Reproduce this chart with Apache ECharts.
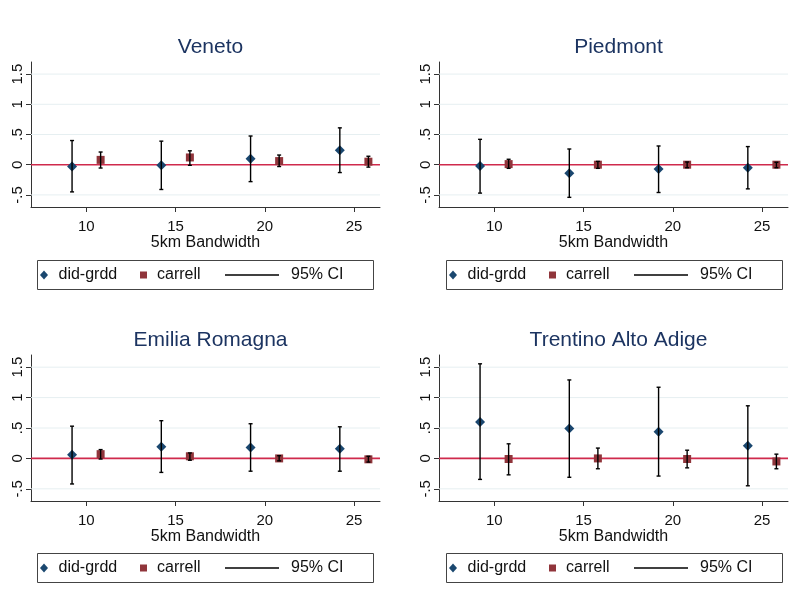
<!DOCTYPE html>
<html><head><meta charset="utf-8">
<script src="https://cdn.jsdelivr.net/npm/echarts@6/dist/echarts.min.js"></script>
<style>html,body{margin:0;padding:0;background:#fff}#chart{width:789px;height:616px}</style>
</head><body><div id="chart"></div>
<script>
// ---- data ----
const panelTitles = ['Veneto', 'Piedmont', 'Emilia Romagna', 'Trentino Alto Adige'];
const didX = [9.2, 14.2, 19.2, 24.2];
const carrellX = [10.8, 15.8, 20.8, 25.8];
const xTicks = [10, 15, 20, 25];
const yTicks = [-0.5, 0, 0.5, 1, 1.5];
const legendNames = ['did-grdd', 'carrell', '95% CI'];
const xAxisTitle = '5km Bandwidth';

const venetoDid = [-0.03, -0.01, 0.10, 0.24];
const venetoDidLo = [-0.45, -0.41, -0.28, -0.13];
const venetoDidHi = [0.40, 0.39, 0.475, 0.61];
const venetoCar = [0.08, 0.12, 0.06, 0.05];
const venetoCarLo = [-0.055, -0.01, -0.03, -0.04];
const venetoCarHi = [0.21, 0.23, 0.16, 0.14];

const piedmontDid = [-0.02, -0.14, -0.07, -0.05];
const piedmontDidLo = [-0.47, -0.54, -0.46, -0.40];
const piedmontDidHi = [0.42, 0.26, 0.31, 0.30];
const piedmontCar = [0.01, 0.0, 0.0, 0.0];
const piedmontCarLo = [-0.06, -0.06, -0.05, -0.05];
const piedmontCarHi = [0.09, 0.055, 0.045, 0.04];

const emiliaDid = [0.06, 0.19, 0.18, 0.16];
const emiliaDidLo = [-0.42, -0.23, -0.21, -0.21];
const emiliaDidHi = [0.53, 0.62, 0.57, 0.52];
const emiliaCar = [0.07, 0.035, 0.0, -0.015];
const emiliaCarLo = [-0.01, -0.03, -0.04, -0.06];
const emiliaCarHi = [0.145, 0.09, 0.045, 0.035];

const trentinoDid = [0.60, 0.49, 0.44, 0.21];
const trentinoDidLo = [-0.345, -0.31, -0.29, -0.45];
const trentinoDidHi = [1.555, 1.29, 1.17, 0.865];
const trentinoCar = [-0.01, 0.0, -0.01, -0.05];
const trentinoCarLo = [-0.27, -0.17, -0.155, -0.17];
const trentinoCarHi = [0.24, 0.17, 0.135, 0.07];

const panelData = [
  [venetoDid, venetoDidLo, venetoDidHi, venetoCar, venetoCarLo, venetoCarHi],
  [piedmontDid, piedmontDidLo, piedmontDidHi, piedmontCar, piedmontCarLo, piedmontCarHi],
  [emiliaDid, emiliaDidLo, emiliaDidHi, emiliaCar, emiliaCarLo, emiliaCarHi],
  [trentinoDid, trentinoDidLo, trentinoDidHi, trentinoCar, trentinoCarLo, trentinoCarHi]
];

// ---- styling / layout ----
const FONT = "'Liberation Sans', Arial, Helvetica, sans-serif";
const DID_COLOR = '#1a476f';
const CAR_COLOR = '#90353b';
const TITLE_COLOR = '#1c3461';
const grids = [
  {left: 31, top: 62, width: 349, height: 145},
  {left: 439, top: 62, width: 349, height: 145},
  {left: 31, top: 355, width: 349, height: 146},
  {left: 439, top: 355, width: 349, height: 146}
];
const legendPos = [[37, 260], [446, 260], [37, 553], [446, 553]];

function yFmt(v) {
  if (v === 0) return '0';
  const a = Math.abs(v);
  let s = a < 1 ? String(a).replace(/^0/, '') : String(a);
  return (v < 0 ? '-' : '') + s;
}

function renderErr(params, api) {
  const x = api.value(0), lo = api.value(1), hi = api.value(2);
  const pLo = api.coord([x, lo]), pHi = api.coord([x, hi]);
  const cw = 2;
  const st = {stroke: '#000', lineWidth: 1.4};
  return {type: 'group', children: [
    {type: 'line', shape: {x1: pLo[0], y1: pLo[1], x2: pHi[0], y2: pHi[1]}, style: st},
    {type: 'line', shape: {x1: pLo[0] - cw, y1: pLo[1], x2: pLo[0] + cw, y2: pLo[1]}, style: st},
    {type: 'line', shape: {x1: pHi[0] - cw, y1: pHi[1], x2: pHi[0] + cw, y2: pHi[1]}, style: st}
  ]};
}

function renderHLine(color, width) {
  return function (params, api) {
    const cs = params.coordSys;
    const y = api.coord([7, api.value(0)])[1];
    return {type: 'line', shape: {x1: cs.x, y1: y, x2: cs.x + cs.width, y2: y},
      style: {stroke: color, lineWidth: width}};
  };
}

const option = {
  backgroundColor: '#fff',
  animation: false,
  textStyle: {fontFamily: FONT},
  title: [], grid: [], xAxis: [], yAxis: [], series: [], graphic: []
};

grids.forEach((g, i) => {
  option.grid.push({left: g.left, top: g.top, width: g.width, height: g.height, containLabel: false});
  option.title.push({
    text: panelTitles[i], left: g.left + g.width / 2, top: g.top - 30, textAlign: 'center',
    textStyle: {fontFamily: FONT, fontSize: 21, fontWeight: 'normal', color: TITLE_COLOR}
  });
  option.xAxis.push({
    type: 'value', gridIndex: i, min: 6.9, max: 26.45,
    name: xAxisTitle, nameLocation: 'middle', nameGap: 26,
    nameTextStyle: {fontFamily: FONT, fontSize: 16, color: '#111'},
    axisLine: {show: true, onZero: false, lineStyle: {color: '#333', width: 1}},
    axisTick: {show: true, length: 5, customValues: xTicks, lineStyle: {color: '#333'}},
    axisLabel: {customValues: xTicks, fontFamily: FONT, fontSize: 15, color: '#111', margin: 12},
    splitLine: {show: false}
  });
  option.yAxis.push({
    type: 'value', gridIndex: i, min: -0.7, max: 1.7,
    axisLine: {show: true, onZero: false, lineStyle: {color: '#333', width: 1}},
    axisTick: {show: true, length: 5, customValues: yTicks, lineStyle: {color: '#333'}},
    axisLabel: {customValues: yTicks, rotate: 90, formatter: yFmt, fontFamily: FONT, fontSize: 15, color: '#111', margin: 6},
    splitLine: {show: false}
  });
  const d = panelData[i];
  option.series.push({
    type: 'custom', xAxisIndex: i, yAxisIndex: i, silent: true, z: 1,
    renderItem: renderHLine('#e6eff1', 1),
    data: yTicks.filter(v => v !== 0).map(v => [v]), encode: {y: 0}
  });
  option.series.push({
    type: 'custom', xAxisIndex: i, yAxisIndex: i, silent: true, z: 2,
    renderItem: renderHLine('#cf2a4c', 1.6),
    data: [[0]], encode: {y: 0}
  });
  option.series.push({
    name: legendNames[0], type: 'scatter', xAxisIndex: i, yAxisIndex: i, z: 3,
    symbol: 'diamond', symbolSize: 10, itemStyle: {color: DID_COLOR, opacity: 1},
    data: didX.map((x, k) => [x, d[0][k]])
  });
  option.series.push({
    name: legendNames[1], type: 'scatter', xAxisIndex: i, yAxisIndex: i, z: 3,
    symbol: 'rect', symbolSize: 8, itemStyle: {color: CAR_COLOR, opacity: 1},
    data: carrellX.map((x, k) => [x, d[3][k]])
  });
  option.series.push({
    name: legendNames[2], type: 'custom', xAxisIndex: i, yAxisIndex: i, z: 4,
    renderItem: renderErr, encode: {x: 0, y: [1, 2]},
    data: didX.map((x, k) => [x, d[1][k], d[2][k]]).concat(carrellX.map((x, k) => [x, d[4][k], d[5][k]]))
  });
  // legend box
  const [bx, by] = legendPos[i];
  const cy = by + 15;
  const tstyle = (x, t) => ({type: 'text', x: x, y: cy,
    style: {text: t, fontFamily: FONT, fontSize: 16, fill: '#111', textVerticalAlign: 'middle', textAlign: 'left'}});
  option.graphic.push({
    type: 'group', silent: true, children: [
      {type: 'rect', shape: {x: bx + 0.5, y: by + 0.5, width: 336, height: 29}, style: {fill: '#fff', stroke: '#444', lineWidth: 1}},
      {type: 'polygon', shape: {points: [[bx + 7, cy - 4.5], [bx + 11, cy], [bx + 7, cy + 4.5], [bx + 3, cy]]}, style: {fill: DID_COLOR}},
      tstyle(bx + 21.5, legendNames[0]),
      {type: 'rect', shape: {x: bx + 103, y: cy - 3.5, width: 7, height: 7}, style: {fill: CAR_COLOR}},
      tstyle(bx + 120, legendNames[1]),
      {type: 'line', shape: {x1: bx + 188, y1: cy, x2: bx + 242, y2: cy}, style: {stroke: '#000', lineWidth: 1.3}},
      tstyle(bx + 254, legendNames[2])
    ]
  });
});

const chart = echarts.init(document.getElementById('chart'), null, {renderer: 'canvas'});
chart.setOption(option);
</script>
</body></html>
